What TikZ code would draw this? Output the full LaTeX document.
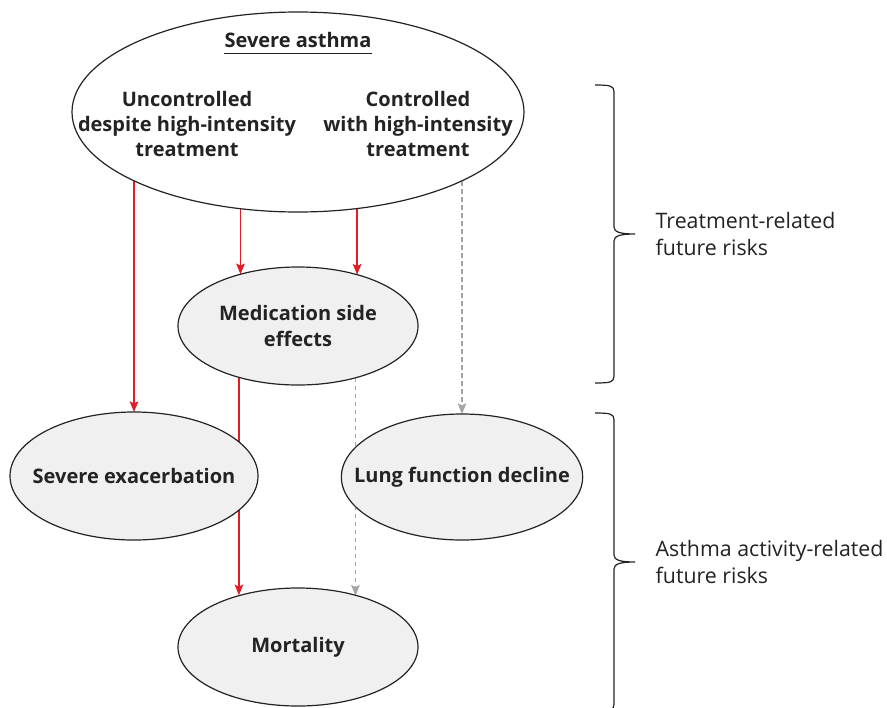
\documentclass[tikz,border=0pt]{standalone}
\usepackage{fontspec}
\setmainfont{Open Sans}
\definecolor{arrowRed}{RGB}{225,28,38}
\definecolor{dashGray}{RGB}{165,165,165}
\definecolor{nodeGray}{RGB}{240,240,240}
\definecolor{lineDark}{RGB}{35,35,35}
\usetikzlibrary{shapes.geometric,arrows.meta,backgrounds}

\begin{document}
\begin{tikzpicture}[x=0.75pt,y=-0.75pt,
  every node/.style={font=\fontsize{16}{20}\selectfont,text=lineDark},
  blob/.style={ellipse,draw=lineDark,line width=0.9pt,fill=nodeGray,inner sep=0pt,outer sep=0pt},
  blobtext/.style={align=center,inner sep=0pt,font=\fontsize{15}{19}\selectfont\bfseries},
  redarrow/.style={-{Stealth[length=8pt,width=6.5pt,inset=1.5pt]},arrowRed,line width=0.9pt},
  grayarrow/.style={-{Stealth[length=8pt,width=6.5pt,inset=1.5pt]},dashGray,line width=0.9pt,dash pattern=on 3.5pt off 2.5pt},
  bracket/.style={lineDark,line width=0.9pt}]
\useasboundingbox (0,0) rectangle (887,707);

% Severe asthma
\node[blob,fill=white,minimum width=339pt,minimum height=150pt] (asthma) at (298,112) {};
\node[blobtext] (title) at (298,40) {Severe asthma};
\draw[lineDark,line width=1pt] ([yshift=-4.5pt]title.base west) -- ([yshift=-4.5pt]title.base east);
\node[blobtext] (uncontrolled) at (187,124) {Uncontrolled\\despite high-intensity\\treatment};
\node[blobtext] (controlled) at (418,124) {Controlled\\with high-intensity\\treatment};

% Future risks
\node[blob,minimum width=180pt,minimum height=88.5pt] (sideeffects) at (298,326) {};
\node[blobtext] (sideeffectstext) at (sideeffects) {Medication side\\effects};
\node[blob,minimum width=186pt,minimum height=96pt] (exacerbation) at (134,476) {};
\node[blobtext] (exacerbationtext) at (exacerbation) {Severe exacerbation};
\node[blob,minimum width=181pt,minimum height=94.5pt] (lungdecline) at (462,477) {};
\node[blobtext] (lungdeclinetext) at (lungdecline) {Lung function decline};
\node[blob,minimum width=180pt,minimum height=88.5pt] (mortality) at (298,647) {};
\node[blobtext] (mortalitytext) at (mortality) {Mortality};

% Arrows (behind the ellipses)
\begin{pgfonlayer}{background}
\draw[redarrow] (asthma.202.76 -| exacerbation.north) -- (exacerbation.north);
\draw[redarrow] (asthma.238.56 -| sideeffects.138.9) -- (sideeffects.138.9);
\draw[redarrow] (asthma.301.44 -| sideeffects.41.1) -- (sideeffects.41.1);
\draw[grayarrow] (asthma.337.24 -| lungdecline.north) -- (lungdecline.north);
\draw[redarrow] (sideeffects.221.1) -- (sideeffects.221.1 |- mortality.138.9);
\draw[grayarrow] (sideeffects.318.9) -- (sideeffects.318.9 |- mortality.41.1);
\end{pgfonlayer}

% Braces
\draw[bracket] (595,85) .. controls (611,85) and (614,86) .. (614,92) -- (614,227)
  .. controls (614,232) and (620,234) .. (635,234)
  .. controls (620,234) and (614,236) .. (614,241) -- (614,376)
  .. controls (614,382) and (611,383) .. (595,383);
\node[anchor=west,align=left] (treatrisk) at (651,234) {Treatment-related\\future risks};
\draw[bracket] (595,413) .. controls (611,413) and (614,414) .. (614,420) -- (614,555)
  .. controls (614,560) and (620,562) .. (635,562)
  .. controls (620,562) and (614,564) .. (614,569) -- (614,704)
  .. controls (614,710) and (611,711) .. (595,711);
\node[anchor=west,align=left] (activityrisk) at (651,562) {Asthma activity-related\\future risks};
\end{tikzpicture}
\end{document}
